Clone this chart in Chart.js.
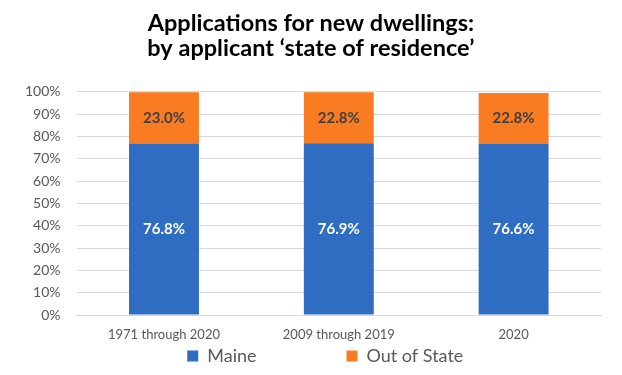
<!DOCTYPE html>
<html>
<head>
<meta charset="utf-8">
<script src="https://cdn.jsdelivr.net/npm/chart.js@4.4.0/dist/chart.umd.min.js"></script>
<style>
  html, body { margin: 0; padding: 0; background: #fff; }
  #wrap { width: 622px; height: 375px; }
</style>
</head>
<body>
<div id="wrap"><canvas id="residenceChart" width="622" height="375"></canvas></div>
<script>
const categories = ['1971 through 2020', '2009 through 2019', '2020'];
const maineValues = [76.8, 76.9, 76.6];
const outOfStateValues = [23.0, 22.8, 22.8];
const yTicks = [0, 10, 20, 30, 40, 50, 60, 70, 80, 90, 100];

const FONT = 'Lato, "Open Sans", sans-serif';

// draws the value in the middle of each bar segment
const segmentLabels = {
    id: 'segmentLabels',
    afterDatasetsDraw(chart) {
        const ctx = chart.ctx;
        ctx.save();
        ctx.font = 'bold 15px ' + FONT;
        ctx.textAlign = 'center';
        ctx.textBaseline = 'middle';
        chart.data.datasets.forEach((ds, i) => {
            const meta = chart.getDatasetMeta(i);
            ctx.fillStyle = i === 0 ? '#ffffff' : '#404040';
            meta.data.forEach((bar, j) => {
                const y = (bar.y + bar.base) / 2;
                ctx.fillText(ds.data[j].toFixed(1) + '%', bar.x, y);
            });
        });
        ctx.restore();
    }
};

const ctx = document.getElementById('residenceChart').getContext('2d');

new Chart(ctx, {
    type: 'bar',
    data: {
        labels: categories,
        datasets: [{
            label: 'Maine',
            data: maineValues,
            backgroundColor: '#2E6DC2',
            barPercentage: 0.4,
            categoryPercentage: 1
        }, {
            label: 'Out of State',
            data: outOfStateValues,
            backgroundColor: '#F97B22',
            barPercentage: 0.4,
            categoryPercentage: 1
        }]
    },
    options: {
        responsive: false,
        animation: false,
        layout: { padding: { left: 9, right: 21, top: 0, bottom: 0 } },
        plugins: {
            title: {
                display: true,
                // leading en space nudges the centred title a little to the right
                text: ['\u2002Applications for new dwellings:', '\u2002by applicant \u2018state of residence\u2019'],
                color: '#000000',
                font: { family: FONT, size: 23.5, weight: 'bold', lineHeight: 1.1 },
                padding: { top: 10, bottom: 30 }
            },
            legend: {
                position: 'bottom',
                fullSize: false,
                labels: {
                    color: '#595959',
                    font: { family: FONT, size: 18 },
                    boxWidth: 11,
                    boxHeight: 11,
                    padding: 0,
                    generateLabels(chart) {
                        const items = Chart.defaults.plugins.legend.labels.generateLabels(chart);
                        // spacing between the two legend entries
                        items[0].text = items[0].text + '\u2003\u2003\u2003\u2003\u2003\u2003\u2002';
                        items[1].text = items[1].text + '\u2003\u2003';
                        items.forEach(it => { it.lineWidth = 0; });
                        return items;
                    }
                }
            },
            tooltip: { enabled: false }
        },
        scales: {
            x: {
                stacked: true,
                grid: { display: false, drawTicks: false },
                border: { color: '#d9d9d9' },
                ticks: { color: '#595959', font: { family: FONT, size: 13 }, padding: 12 },
                afterFit(axis) { axis.height = 32; }
            },
            y: {
                stacked: true,
                min: 0,
                max: 100,
                afterBuildTicks(axis) {
                    axis.ticks = yTicks.map(v => ({ value: v }));
                },
                grid: { color: '#d9d9d9', drawTicks: false },
                border: { display: false },
                ticks: {
                    color: '#595959',
                    font: { family: FONT, size: 14 },
                    padding: 16,
                    callback: v => v + '%'
                }
            }
        }
    },
    plugins: [segmentLabels]
});
</script>
</body>
</html>
